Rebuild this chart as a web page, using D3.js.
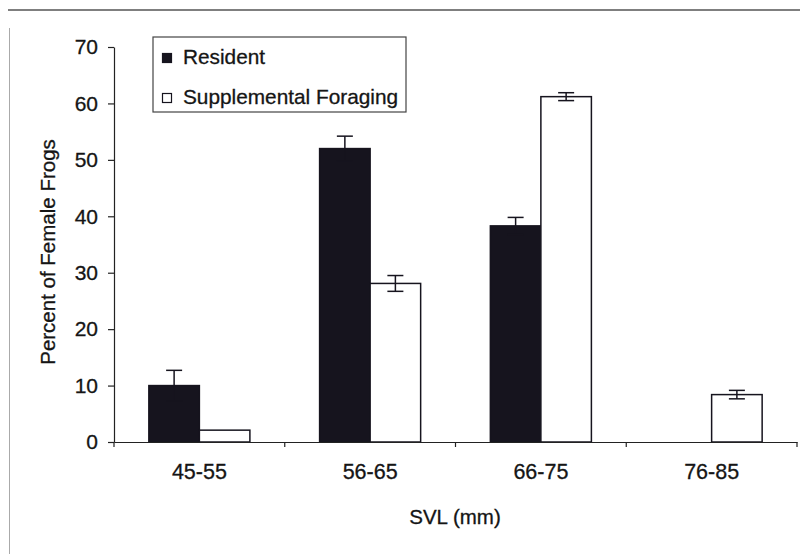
<!DOCTYPE html>
<html>
<head>
<meta charset="utf-8">
<script src="https://cdn.jsdelivr.net/npm/d3@7/dist/d3.min.js"></script>
<style>
  html, body { margin: 0; padding: 0; background: #fff; }
  svg { display: block; font-family: "Liberation Sans", Arial, sans-serif; }
  .lbl { fill: #151515; stroke: #151515; stroke-width: 0.3px; }
</style>
</head>
<body>
<svg id="chart" width="800" height="554"></svg>
<script>
// Female frog size classes (snout-vent length, mm)
const categories = ["45-55", "56-65", "66-75", "76-85"];
const seriesNames = ["Resident", "Supplemental Foraging"];
const residentValues = [10, 52, 38.3, 0];
const residentErrors = [2.7, 2.2, 1.5, 0];
const supplementalValues = [2.1, 28.1, 61.2, 8.4];
const supplementalErrors = [0, 1.4, 0.7, 0.75];
const yTicks = [0, 10, 20, 30, 40, 50, 60, 70];

const W = 800, H = 554;
const plot = { left: 114, right: 797, top: 47, bottom: 442 };
const fontSize = 20.5;
const ink = "#16141e";

const svg = d3.select("#chart");
svg.append("rect").attr("width", W).attr("height", H).attr("fill", "#fff");

// frame lines around the figure
svg.append("line").attr("x1", 8).attr("x2", W).attr("y1", 10).attr("y2", 10)
  .attr("stroke", "#555").attr("stroke-width", 1.5);
svg.append("line").attr("x1", 9.5).attr("x2", 9.5).attr("y1", 28).attr("y2", H)
  .attr("stroke", "#aaa").attr("stroke-width", 1);

const x0 = d3.scaleBand().domain(categories).range([plot.left, plot.right])
  .paddingInner(0).paddingOuter(0);
const x1 = d3.scaleBand().domain(seriesNames).range([0, x0.bandwidth()])
  .paddingInner(0).paddingOuter(0.69);
const y = d3.scaleLinear().domain([0, 70]).range([plot.bottom, plot.top]);

const rows = categories.map((c, i) => ({
  cat: c,
  items: [
    { series: seriesNames[0], value: residentValues[i], err: residentErrors[i], fill: ink },
    { series: seriesNames[1], value: supplementalValues[i], err: supplementalErrors[i], fill: "#fff" }
  ]
}));

// y axis
const yAxis = svg.append("g").attr("transform", `translate(${plot.left},0)`)
  .call(d3.axisLeft(y).tickValues(yTicks).tickSize(6).tickSizeOuter(0).tickPadding(10));
yAxis.select(".domain").attr("stroke", "#222").attr("stroke-width", 1.2);
yAxis.selectAll(".tick line").attr("stroke", "#222").attr("stroke-width", 1.2);
yAxis.selectAll(".tick text").attr("class", "lbl").attr("font-size", 21)
  .attr("font-family", "'Liberation Sans', Arial, sans-serif");

// bars
const groups = svg.append("g").selectAll("g").data(rows).join("g")
  .attr("transform", d => `translate(${x0(d.cat)},0)`);

groups.selectAll("rect").data(d => d.items.filter(it => it.value > 0)).join("rect")
  .attr("x", d => x1(d.series))
  .attr("y", d => y(d.value))
  .attr("width", x1.bandwidth())
  .attr("height", d => y(0) - y(d.value))
  .attr("fill", d => d.fill)
  .attr("stroke", ink)
  .attr("stroke-width", 1.5);

// error bars
const capHalf = 8;
const eb = groups.selectAll("g.err").data(d => d.items.filter(it => it.err > 0)).join("g")
  .attr("class", "err")
  .attr("transform", d => `translate(${x1(d.series) + x1.bandwidth() / 2},0)`)
  .attr("stroke", ink).attr("stroke-width", 1.5);
eb.append("line").attr("x1", 0).attr("x2", 0)
  .attr("y1", d => y(d.value + d.err)).attr("y2", d => y(d.value - d.err));
eb.append("line").attr("x1", -capHalf).attr("x2", capHalf)
  .attr("y1", d => y(d.value + d.err)).attr("y2", d => y(d.value + d.err));
eb.append("line").attr("x1", -capHalf).attr("x2", capHalf)
  .attr("y1", d => y(d.value - d.err)).attr("y2", d => y(d.value - d.err));

// x axis: baseline, category boundary ticks, centred labels
const xAxis = svg.append("g").attr("transform", `translate(0,${plot.bottom})`)
  .call(d3.axisBottom(x0).tickSize(0).tickPadding(22));
xAxis.select(".domain").attr("stroke", "#222").attr("stroke-width", 1.2);
xAxis.selectAll(".tick text").attr("class", "lbl").attr("font-size", 21.5)
  .attr("font-family", "'Liberation Sans', Arial, sans-serif");
const bounds = categories.map(c => x0(c)).concat([x0.range()[1]]);
xAxis.selectAll("line.bound").data(bounds).join("line").attr("class", "bound")
  .attr("x1", d => d).attr("x2", d => d).attr("y1", 0).attr("y2", 5)
  .attr("stroke", "#222").attr("stroke-width", 1.2);

// axis titles
svg.append("text").attr("class", "lbl").attr("x", (plot.left + plot.right) / 2 - 0.5).attr("y", 524)
  .attr("text-anchor", "middle").attr("font-size", fontSize)
  .text("SVL (mm)");
svg.append("text").attr("class", "lbl").attr("transform", "translate(55,252) rotate(-90)")
  .attr("text-anchor", "middle").attr("font-size", fontSize)
  .text("Percent of Female Frogs");

// legend
const legend = svg.append("g").attr("transform", "translate(153,37)");
legend.append("rect").attr("x", 0).attr("y", 0).attr("width", 253).attr("height", 75)
  .attr("fill", "#fff").attr("stroke", "#444").attr("stroke-width", 1.2);
const legendFills = [ink, "#fff"];
seriesNames.forEach((name, i) => {
  legend.append("rect").attr("x", 9.5).attr("y", 16.5 + i * 40).attr("width", 9).attr("height", 9)
    .attr("fill", legendFills[i]).attr("stroke", ink).attr("stroke-width", 1.2);
  legend.append("text").attr("class", "lbl").attr("x", 30).attr("y", 26.5 + i * 40)
    .attr("font-size", 20.8).text(name);
});
</script>
</body>
</html>
